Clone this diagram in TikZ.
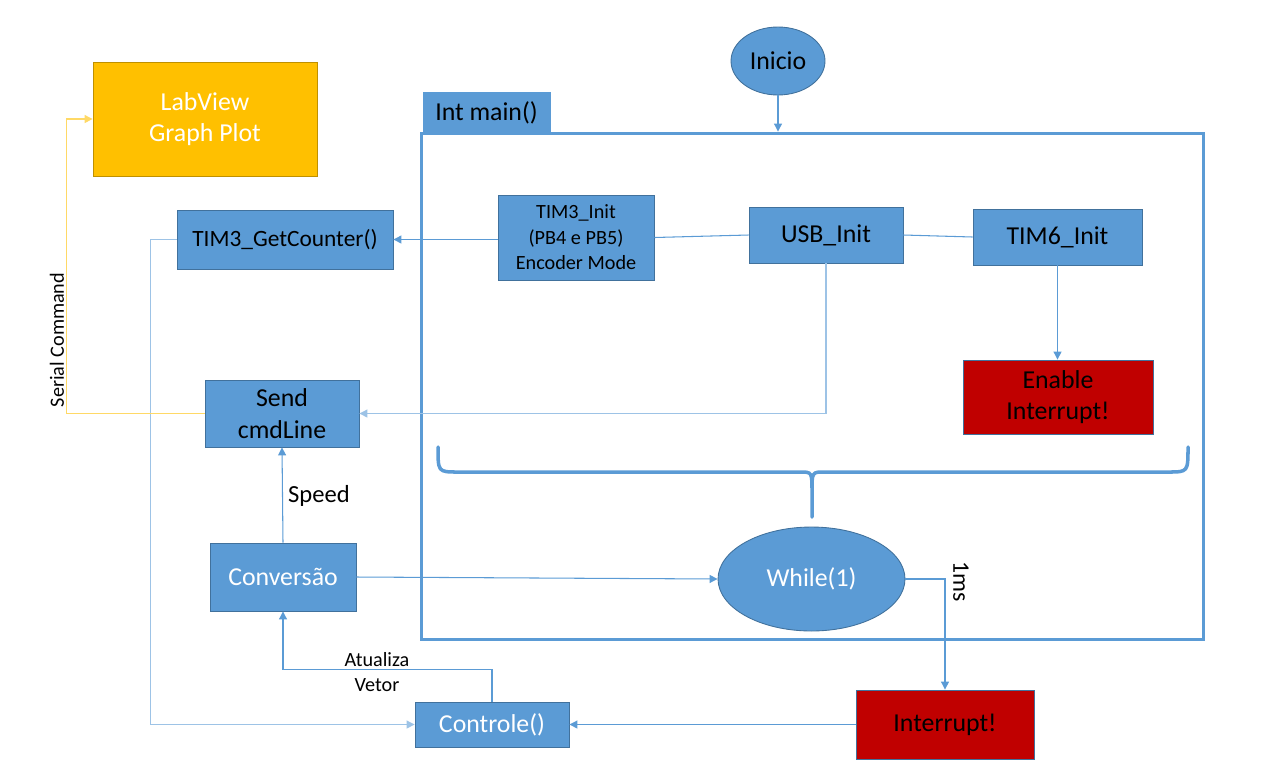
\documentclass[tikz,border=0pt]{standalone}
\usepackage{fontspec}
\setmainfont{Carlito}
\usetikzlibrary{positioning,arrows.meta,shapes.geometric}
\definecolor{boxBlue}{HTML}{5B9BD5}
\definecolor{boxEdge}{HTML}{41719C}
\definecolor{lineLight}{HTML}{9DC3E6}
\definecolor{plotGold}{HTML}{FFC000}
\definecolor{plotEdge}{HTML}{BF9000}
\definecolor{serialLine}{HTML}{FFD966}
\definecolor{alarmRed}{HTML}{C00000}

\begin{document}
\begin{tikzpicture}[x=0.02cm,y=-0.02cm,
          every node/.style={font=\fontsize{14.7pt}{18pt}\selectfont,
                             text=black,align=center},
          blk/.style={draw=boxEdge,fill=boxBlue,line width=0.5pt,inner sep=2pt},
          alarm/.style={draw=boxEdge,fill=alarmRed,line width=0.5pt,inner sep=2pt},
          oval/.style={ellipse,draw=boxEdge,fill=boxBlue,line width=0.5pt,inner sep=0pt},
          wire/.style={draw=boxBlue,line width=0.6pt},
          flow/.style={wire,-{Triangle[length=1.6mm,width=1.6mm]}},
          tag/.style={font=\fontsize{11.5pt}{14pt}\selectfont},
        ]
        \useasboundingbox (0,0) rectangle (1280,782);
        % main() frame and its tab
        \node[draw=boxBlue,line width=1.7pt,minimum width=15.66cm,minimum height=10.14cm] (mainbox) at (812.5,386.5) {};
        \node[fill=boxBlue,draw=boxBlue,line width=0.5pt,minimum width=2.54cm,minimum height=0.82cm] (maintab) at (486.5,112.5) {Int main()};
        \draw[boxBlue,line width=2pt,line cap=round]
          (438,447) .. controls (438,472) .. (458,472) -- (800,472)
          .. controls (812,472) .. (812,492) -- (812,517)
          (812,492) .. controls (812,472) .. (824,472) -- (1168,472)
          .. controls (1188,472) .. (1188,447);

        \node[oval,minimum width=1.88cm,minimum height=1.36cm] (inicio) at (778,61) {Inicio};
        \node[blk,minimum width=3.12cm,minimum height=1.7cm,font=\fontsize{11.5pt}{14.5pt}\selectfont] (tim3init) at (576,237.5) {TIM3\_Init\\(PB4 e PB5)\\Encoder Mode};
        \node[blk,minimum width=3.08cm,minimum height=1.12cm] (usbinit) at (826,235) {USB\_Init};
        \node[blk,minimum width=3.38cm,minimum height=1.12cm] (tim6init) at (1057.5,237) {TIM6\_Init};
        \node[alarm,minimum width=3.8cm,minimum height=1.48cm] (enable) at (1058,397) {Enable\\Interrupt!};
        \node[oval,minimum width=3.74cm,minimum height=2.08cm,text=white] (while) at (811.5,579) {While(1)};

        \node[draw=plotEdge,fill=plotGold,line width=0.5pt,minimum width=4.48cm,minimum height=2.28cm,text=white] (labview) at (205,119) {LabView\\Graph Plot};
        \node[blk,minimum width=4.32cm,minimum height=1.18cm,font=\fontsize{13.3pt}{16pt}\selectfont] (getcounter) at (285,239.5) {TIM3\_GetCounter()};
        \node[blk,minimum width=3.08cm,minimum height=1.34cm] (sendcmd) at (282,413.5) {Send\\cmdLine};
        \node[blk,minimum width=2.92cm,minimum height=1.36cm,text=white] (conversao) at (283,577) {Conversão};
        \node[blk,minimum width=3.08cm,minimum height=0.9cm,text=white] (controle) at (492,724.5) {Controle()};
        \node[alarm,minimum width=3.56cm,minimum height=1.38cm] (interrupt) at (945,724.5) {Interrupt!};

        % connectors
        \draw[flow] (inicio.south) -- (inicio.south |- mainbox.north);
        \draw[flow] (tim3init.west |- getcounter.east) -- (getcounter.east);
        \draw[wire] (tim3init.east) -- (usbinit.west);
        \draw[wire] (usbinit.east) -- (tim6init.west);
        \draw[flow] (tim6init.south) -- (tim6init.south |- enable.north);
        \draw[flow,draw=lineLight] (usbinit.south) |- (sendcmd.east);
        \draw[flow,draw=lineLight] (getcounter.west) -- ++(-26,0) |- (controle.west);
        \draw[flow,draw=serialLine] (sendcmd.west) -- ++(-138,0) |- (labview.west);
        \draw[flow] (conversao.north) -- (sendcmd.south);
        \draw[flow] (conversao.east) -- (while.west);
        \draw[flow] (while.east) -| (interrupt.north);
        \draw[flow] (interrupt.west) -- (controle.east);
        \draw[flow] (controle.north) -- ++(0,-32) -| (conversao.south);

        \node[tag,rotate=90] (serialtag) at (57,340) {Serial Command};
        \node[font=\fontsize{14pt}{16pt}\selectfont] (speedtag) at (319,496) {Speed};
        \node[font=\fontsize{13.5pt}{16pt}\selectfont,rotate=-90] (mstag) at (961,582) {1ms};
        \node[tag] (vetortag) at (377,672) {Atualiza\\Vetor};
      \end{tikzpicture}
\end{document}
